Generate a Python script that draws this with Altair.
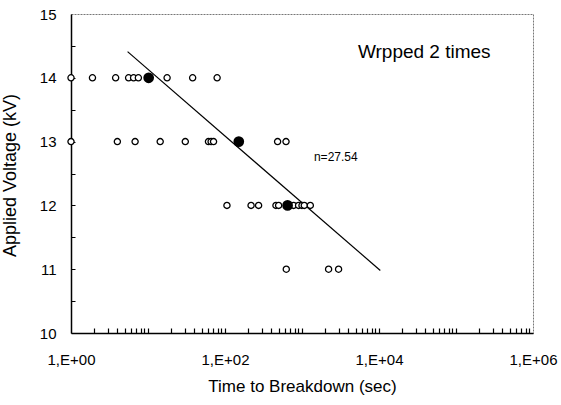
import altair as alt
import pandas as pd

# Open markers: individual breakdown times (s) per voltage level (kV)
v14_times = [1.0, 1.9, 3.8, 5.6, 6.5, 7.5, 17.7, 38, 79]
v13_times = [1.0, 4.0, 6.8, 14.4, 30.5, 61, 66, 71, 482, 620]
v12_times = [106, 218, 273, 459, 497, 778, 903, 1000, 1071, 1282]
v11_times = [625, 2215, 2985]

# Filled markers: characteristic times
mean_volts = [14, 13, 12]
mean_times = [10.2, 151, 650]

# Fitted life line (endpoints)
fit_times = [5.43, 10400]
fit_volts = [14.41, 10.98]

FONT = "Liberation Sans"

rows = []
for v, ts in [(14, v14_times), (13, v13_times), (12, v12_times), (11, v11_times)]:
    for t in ts:
        rows.append({"t": t, "v": v})
open_df = pd.DataFrame(rows)
mean_df = pd.DataFrame({"t": mean_times, "v": mean_volts})
fit_df = pd.DataFrame({"t": fit_times, "v": fit_volts})

x_ticks = [m * 10 ** e for e in range(6) for m in range(1, 10)][1:]
y_ticks = [10.5, 11, 11.5, 12, 12.5, 13, 13.5, 14, 14.5]

W, H = 462, 319

xscale = alt.Scale(type="log", domain=[1, 1e6], nice=False)
yscale = alt.Scale(domain=[10, 15], nice=False, zero=False)

xaxis = alt.Axis(
    values=[1, 100, 10000, 1000000],
    labelExpr="'1,E+0' + round(log(datum.value)/LN10)",
    labelFlush=False,
    title="Time to Breakdown (sec)",
    grid=False, ticks=False,
    domainColor="black", domainWidth=1.5,
    labelFont=FONT, labelFontSize=15, labelColor="black", labelPadding=19,
    titleFont=FONT, titleFontSize=17, titleFontWeight="normal", titleColor="black",
    titlePadding=11,
)
yaxis = alt.Axis(
    values=[10, 11, 12, 13, 14, 15], format="d",
    labelFlush=False,
    title="Applied Voltage (kV)",
    grid=False, ticks=False,
    domainColor="black", domainWidth=1.5,
    labelFont=FONT, labelFontSize=15, labelColor="black", labelPadding=15,
    titleFont=FONT, titleFontSize=18, titleFontWeight="normal", titleColor="black",
    titlePadding=20, titleY=161,
)

# inward minor ticks: extra axes placed on the plot edges
xtick_axis = alt.Axis(
    orient="top", offset=-H, values=x_ticks, labels=False, domain=False,
    grid=False, ticks=True, tickSize=5, tickColor="black", tickWidth=1.2, title="",
)
ytick_axis = alt.Axis(
    orient="right", offset=-W, values=y_ticks, labels=False, domain=False,
    grid=False, ticks=True, tickSize=4, tickColor="black", tickWidth=1, title="",
)

fit = alt.Chart(fit_df).mark_line(color="black", strokeWidth=1.2).encode(
    x=alt.X("t:Q", scale=xscale, axis=xaxis),
    y=alt.Y("v:Q", scale=yscale, axis=yaxis),
)

tick_layer = alt.Chart(fit_df).mark_point(opacity=0).encode(
    x=alt.X("t:Q", scale=xscale, axis=xtick_axis),
    y=alt.Y("v:Q", scale=yscale, axis=ytick_axis),
)

NX = alt.X("t:Q", scale=xscale, axis=None)
NY = alt.Y("v:Q", scale=yscale, axis=None)

opens = alt.Chart(open_df).mark_point(
    shape="circle", size=38, filled=True, fill="white", stroke="black", strokeWidth=1.3, opacity=1
).encode(x=NX, y=NY)

means = alt.Chart(mean_df).mark_point(
    shape="circle", size=115, filled=True, color="black", opacity=1
).encode(x=NX, y=NY)

label_df = pd.DataFrame({"t": [38700], "v": [14.40], "txt": ["Wrpped 2 times"]})
n_df = pd.DataFrame({"t": [2748], "v": [12.755], "txt": ["n=27.54"]})

label = alt.Chart(label_df).mark_text(
    font=FONT, fontSize=19, color="black", align="center", baseline="middle"
).encode(x=NX, y=NY, text="txt:N")
ntext = alt.Chart(n_df).mark_text(
    font=FONT, fontSize=12, color="black", align="center", baseline="middle"
).encode(x=NX, y=NY, text="txt:N")

chart = alt.layer(fit, tick_layer, opens, means, label, ntext).resolve_axis(
    x="independent", y="independent"
).properties(
    width=W, height=H,
    autosize="none",
    padding={"left": 71, "top": 14, "right": 28, "bottom": 72},
    background="white",
).configure_view(
    stroke="#777777", strokeWidth=1, strokeDash=[2, 1]
)

chart.save("out.html", embed_options={"renderer": "svg", "actions": False})
